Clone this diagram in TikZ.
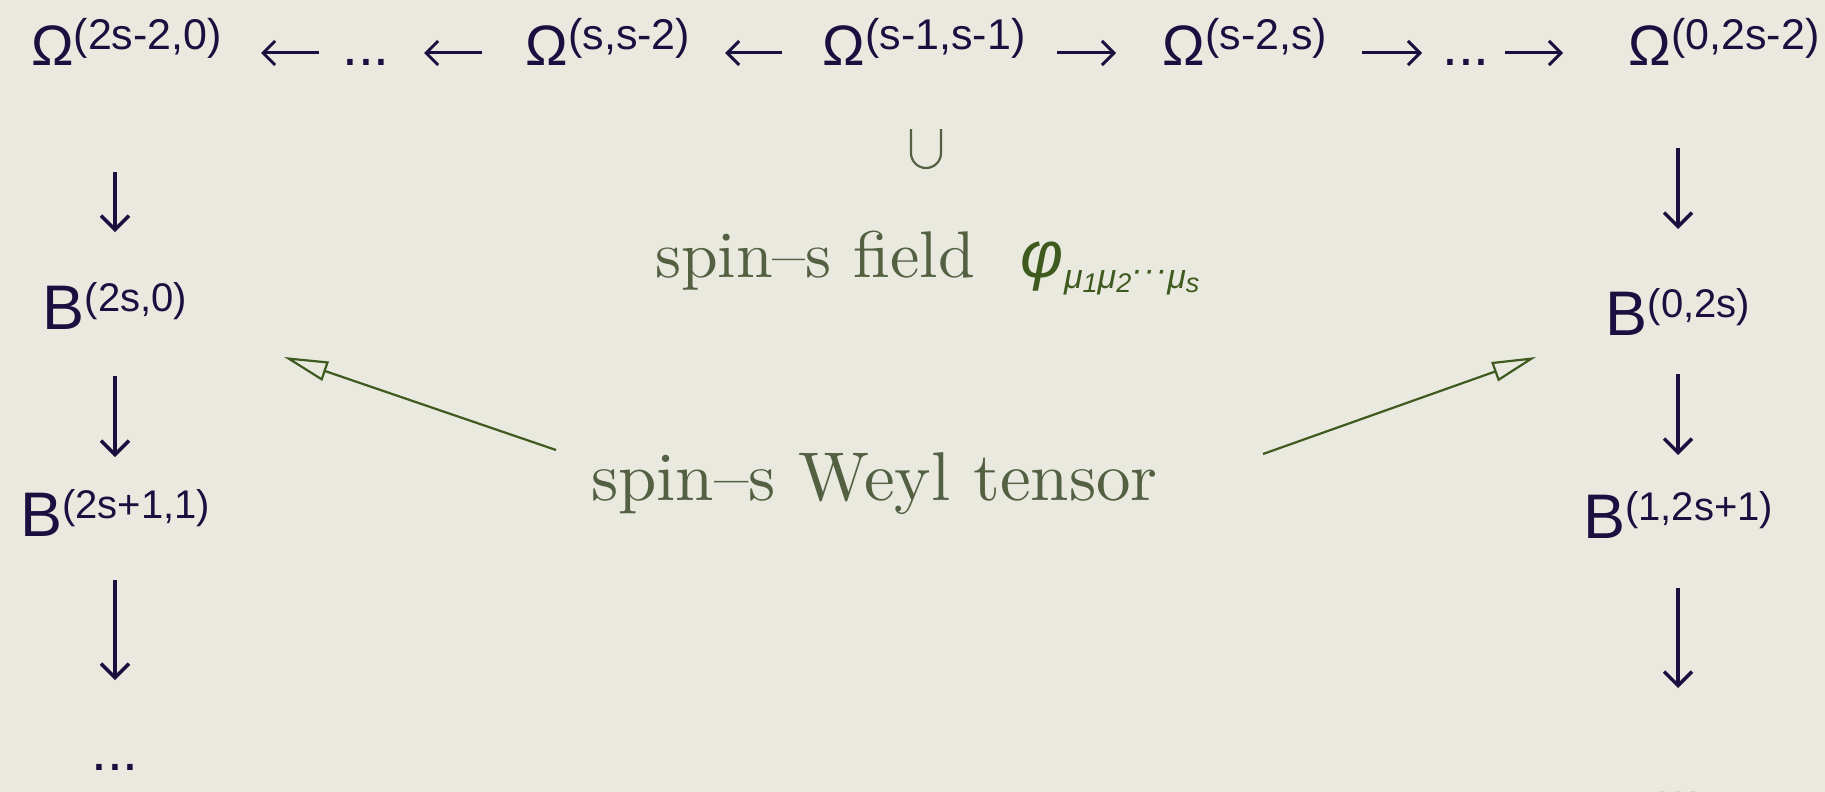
\documentclass[tikz,border=0pt]{standalone}
\usepackage{fontspec}
\usetikzlibrary{arrows.meta}
\newfontfamily\hel{Liberation Sans}
\newfontfamily\lmten[Ligatures=TeX]{lmroman10-regular.otf}
\definecolor{bg}{RGB}{233,233,224}
\definecolor{navy}{RGB}{26,16,64}
\definecolor{olive}{RGB}{83,97,66}
\definecolor{leaf}{RGB}{62,90,30}
\newcommand{\Om}[1]{{\fontsize{57}{60}\selectfont Ω}\raisebox{16pt}{\fontsize{43}{44}\selectfont #1}}
\newcommand{\Bb}[1]{{\fontsize{63}{66}\selectfont B}\raisebox{18pt}{\fontsize{40}{42}\selectfont #1}}
\newcommand{\msub}[1]{\raisebox{-4pt}{\fontsize{27}{29}\selectfont #1}}
\begin{document}
\begin{tikzpicture}[x=1pt,y=-1pt,
  lbl/.style={inner sep=0pt, anchor=base, text=navy, font=\hel},
  dotsn/.style={lbl, font=\hel\fontsize{57}{60}\selectfont},
  harrow/.style={draw=navy, line width=3pt, -{Straight Barb[length=12pt,width=24pt]}},
  varrow/.style={draw=navy, line width=3.5pt, -{Straight Barb[length=14pt,width=28pt]}},
  gtext/.style={inner sep=0pt, anchor=base, text=olive, font=\lmten\fontsize{66}{70}\selectfont},
  garrow/.style={draw=leaf, line width=2.2pt, -{Triangle[open,length=44pt,width=20pt]}},
]
\fill[bg] (0,0) rectangle (1825,792);
\useasboundingbox (0,0) rectangle (1825,792);

% top row
\node[lbl] (o1) at (126.5,66) {\Om{(2s-2,0)}};
\node[dotsn] (d1) at (366,66) {...};
\node[lbl] (o2) at (608,66) {\Om{(s,s-2)}};
\node[lbl] (o3) at (924,66) {\Om{(s-1,s-1)}};
\node[lbl] (o4) at (1245,66) {\Om{(s-2,s)}};
\node[dotsn] (d2) at (1466,66) {...};
\node[lbl] (o5) at (1724,66) {\Om{(0,2s-2)}};

% columns
\node[lbl] (b1) at (115,329) {\Bb{(2s,0)}};
\node[lbl] (b2) at (115,536) {\Bb{(2s+1,1)}};
\node[dotsn] (d3) at (115,770) {...};
\node[lbl] (b3) at (1678,335) {\Bb{(0,2s)}};
\node[lbl] (b4) at (1678,538) {\Bb{(1,2s+1)}};
\node[dotsn] (d4) at (1678,798) {...};

% centre: the inclusion sign
\draw[olive, line width=2.2pt] (911,129) -- (911,153) arc[start angle=180, end angle=0, radius=15] -- (941,129);
\node[gtext, anchor=base west] (field) at (655,277) {spin--s field\hspace{46pt}{\hel\itshape\color{leaf}\fontsize{66}{68}\selectfont φ\raisebox{-11pt}{\fontsize{34}{36}\selectfont μ\msub{1}μ\msub{2}\raisebox{7pt}{·\kern1pt·\kern1pt·}μ\msub{s}}}};
\node[gtext, anchor=base west, font=\lmten\fontsize{69}{72}\selectfont] (weyl) at (591,500) {spin--s Weyl tensor};

% top arrows
\draw[harrow, shorten <=47pt, shorten >=134.5pt] ([yshift=13pt]d1.base) -- ([yshift=13pt]o1.base);
\draw[harrow, shorten <=126pt, shorten >=58pt] ([yshift=13pt]o2.base) -- ([yshift=13pt]d1.base);
\draw[harrow, shorten <=142pt, shorten >=117pt] ([yshift=13pt]o3.base) -- ([yshift=13pt]o2.base);
\draw[harrow, shorten <=133pt, shorten >=129pt] ([yshift=13pt]o3.base) -- ([yshift=13pt]o4.base);
\draw[harrow, shorten <=117pt, shorten >=44pt] ([yshift=13pt]o4.base) -- ([yshift=13pt]d2.base);
\draw[harrow, shorten <=39pt, shorten >=161pt] ([yshift=13pt]d2.base) -- ([yshift=13pt]o5.base);

% column arrows
\draw[varrow, shorten <=106pt, shorten >=97pt] (b1.base |- o1.base) -- (b1.base);
\draw[varrow, shorten <=47pt, shorten >=79pt] (b1.base) -- (b2.base);
\draw[varrow, shorten <=44pt, shorten >=90pt] (b2.base) -- (d3.base);
\draw[varrow, shorten <=82pt, shorten >=106pt] (b3.base |- o5.base) -- (b3.base);
\draw[varrow, shorten <=39pt, shorten >=83pt] (b3.base) -- (b4.base);
\draw[varrow, shorten <=50pt, shorten >=110pt] (b4.base) -- (d4.base);

% Weyl arrows
\coordinate (tipL) at (284,357);
\coordinate (tipR) at (1536,357);
\draw[garrow] ([xshift=-35pt,yshift=50pt]weyl.base west) -- (tipL);
\draw[garrow] ([xshift=672pt,yshift=46pt]weyl.base west) -- (tipR);
\end{tikzpicture}
\end{document}
